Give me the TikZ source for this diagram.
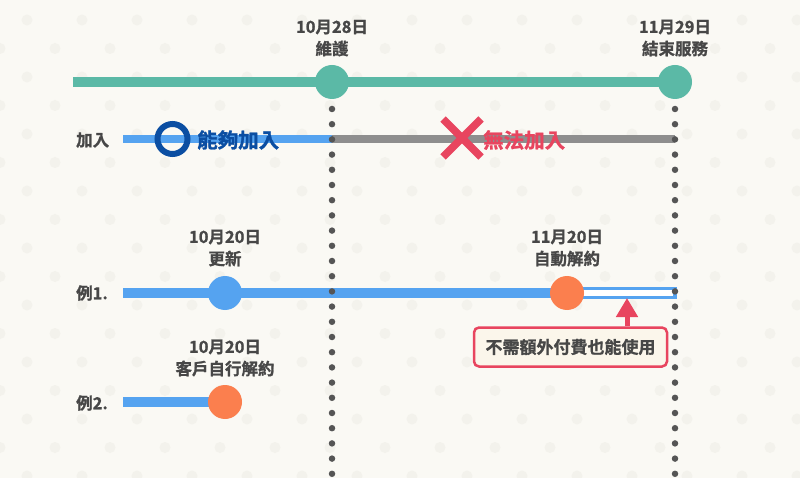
\documentclass[tikz,border=0pt]{standalone}
\usepackage{fontspec}
\setmainfont{Noto Sans CJK TC}[BoldFont=* Bold, BoldFeatures={FakeBold=1.2}]
\usepackage{tikz}
\usetikzlibrary{positioning,calc,arrows.meta}
\definecolor{bgcream}{HTML}{FAF9F4}
\definecolor{bgdot}{HTML}{F3F2EC}
\definecolor{tealc}{HTML}{5BB9A6}
\definecolor{bluec}{HTML}{55A3F0}
\definecolor{navyc}{HTML}{0B4EA2}
\definecolor{orangec}{HTML}{FB7F4E}
\definecolor{grayc}{HTML}{8E8E8E}
\definecolor{redc}{HTML}{E8455F}
\definecolor{txtc}{HTML}{474747}
\definecolor{dotc}{HTML}{555555}
\definecolor{notefill}{HTML}{FBF6EB}
\tikzset{
  mainline/.style = {tealc, line width=10.5pt},
  joinline/.style = {bluec, line width=8pt},
  noline/.style   = {grayc, line width=8pt},
  useline/.style  = {bluec, line width=10pt},
  marker/.style   = {circle, inner sep=0pt, minimum size=34pt, draw=none},
  vdots/.style    = {dotc, line width=6.5pt, line cap=round, dash pattern=on 0pt off 15.2pt},
  datelbl/.style  = {font=\fontsize{16.5}{22}\selectfont\bfseries, text=txtc, align=center, inner sep=0pt},
  rowlbl/.style   = {font=\fontsize{16.5}{18}\selectfont\bfseries, text=txtc, anchor=west, inner sep=0pt},
  biglbl/.style   = {font=\fontsize{20.5}{22}\selectfont\bfseries, anchor=west, inner sep=0pt},
  notebox/.style  = {draw=redc, fill=notefill, line width=2.5pt, rounded corners=5pt,
                     minimum width=193pt, minimum height=39pt, inner sep=0pt,
                     font=\fontsize{17}{18}\selectfont\bfseries, text=txtc},
  uparrow/.style  = {redc, line width=5pt, -{Triangle[width=21pt, length=19pt]}},
}
\begin{document}
\begin{tikzpicture}[x=1pt, y=-1pt]
  \fill[bgcream] (0,0) rectangle (800,478);
  \useasboundingbox (0,0) rectangle (800,478);
  % faint background pattern
  \foreach \r in {0,...,16} {
    \pgfmathsetmacro{\yy}{20+28.5*\r}
    \pgfmathsetmacro{\off}{mod(\r,2)==0 ? 27 : 0}
    \foreach \c in {0,...,14} {
      \fill[bgdot] (\off+55*\c,\yy) circle (5.5);
    }
  }

  % positions
  \coordinate (tstart) at (73,82);
  \coordinate (tmaint) at (332,82);
  \coordinate (tend)   at (675,82);
  \coordinate (jstart) at (123,139);
  \coordinate (jmaint) at (332,139);
  \coordinate (jend)   at (675,139);
  \coordinate (east)   at (123,293);
  \coordinate (eren)   at (225,293);
  \coordinate (eauto)  at (567,293);
  \coordinate (eend)   at (675,293);
  \coordinate (fstart) at (123,402);
  \coordinate (fquit)  at (225,402);

  % service timeline
  \draw[mainline] (tstart) -- (tend);

  % join row
  \node[rowlbl] (joinlbl) at (76,140) {加入};
  \draw[joinline] (jstart) -- (jmaint);
  \draw[noline] (jmaint) -- (jend);
  \node[circle, draw=navyc, line width=6pt, minimum size=30pt, inner sep=0pt] (okring) at (172.5,139) {};
  \node[biglbl, text=navyc] (oktext) at (197,140) {能夠加入};
  \coordinate (xmark) at (462,138);
  \draw[redc, line width=7.5pt] ([shift={(-19,-19)}]xmark) -- ([shift={(19,19)}]xmark);
  \draw[redc, line width=7.5pt] ([shift={(-19,19)}]xmark) -- ([shift={(19,-19)}]xmark);
  \node[biglbl, text=redc] (ngtext) at (483,140) {無法加入};

  % example 1
  \node[rowlbl] (ex1lbl) at (76,293) {例1.};
  \draw[useline] (east) -- (eauto);
  \draw[bluec, line width=3.2pt, fill=white] ([yshift=-4.8]eauto) rectangle ([yshift=4.8]eend);

  % example 2
  \node[rowlbl] (ex2lbl) at (76,403) {例2.};
  \draw[useline] (fstart) -- (fquit);

  % dotted guides
  \draw[vdots] (332,109) -- (332,480);
  \draw[vdots] (675,109) -- (675,480);

  % markers
  \node[marker, fill=tealc] (maint) at (tmaint) {};
  \node[marker, fill=tealc] (close) at (tend) {};
  \node[marker, fill=bluec] (renew) at (eren) {};
  \node[marker, fill=orangec] (auto) at (eauto) {};
  \node[marker, fill=orangec] (quit) at (fquit) {};

  % date labels
  \node[datelbl] (maintlbl) at (332,38) {10月28日\\維護};
  \node[datelbl] (closelbl) at (675,38) {11月29日\\結束服務};
  \node[datelbl] (renewlbl) at (225,248) {10月20日\\更新};
  \node[datelbl] (autolbl)  at (567,248) {11月20日\\自動解約};
  \node[datelbl] (quitlbl)  at (225,358) {10月20日\\客戶自行解約};

  % note
  \node[notebox] (note) at (570.5,347) {不需額外付費也能使用};
  \coordinate (ntip) at (627,298);
  \draw[uparrow] (note.north -| ntip) -- (ntip);
\end{tikzpicture}
\end{document}
